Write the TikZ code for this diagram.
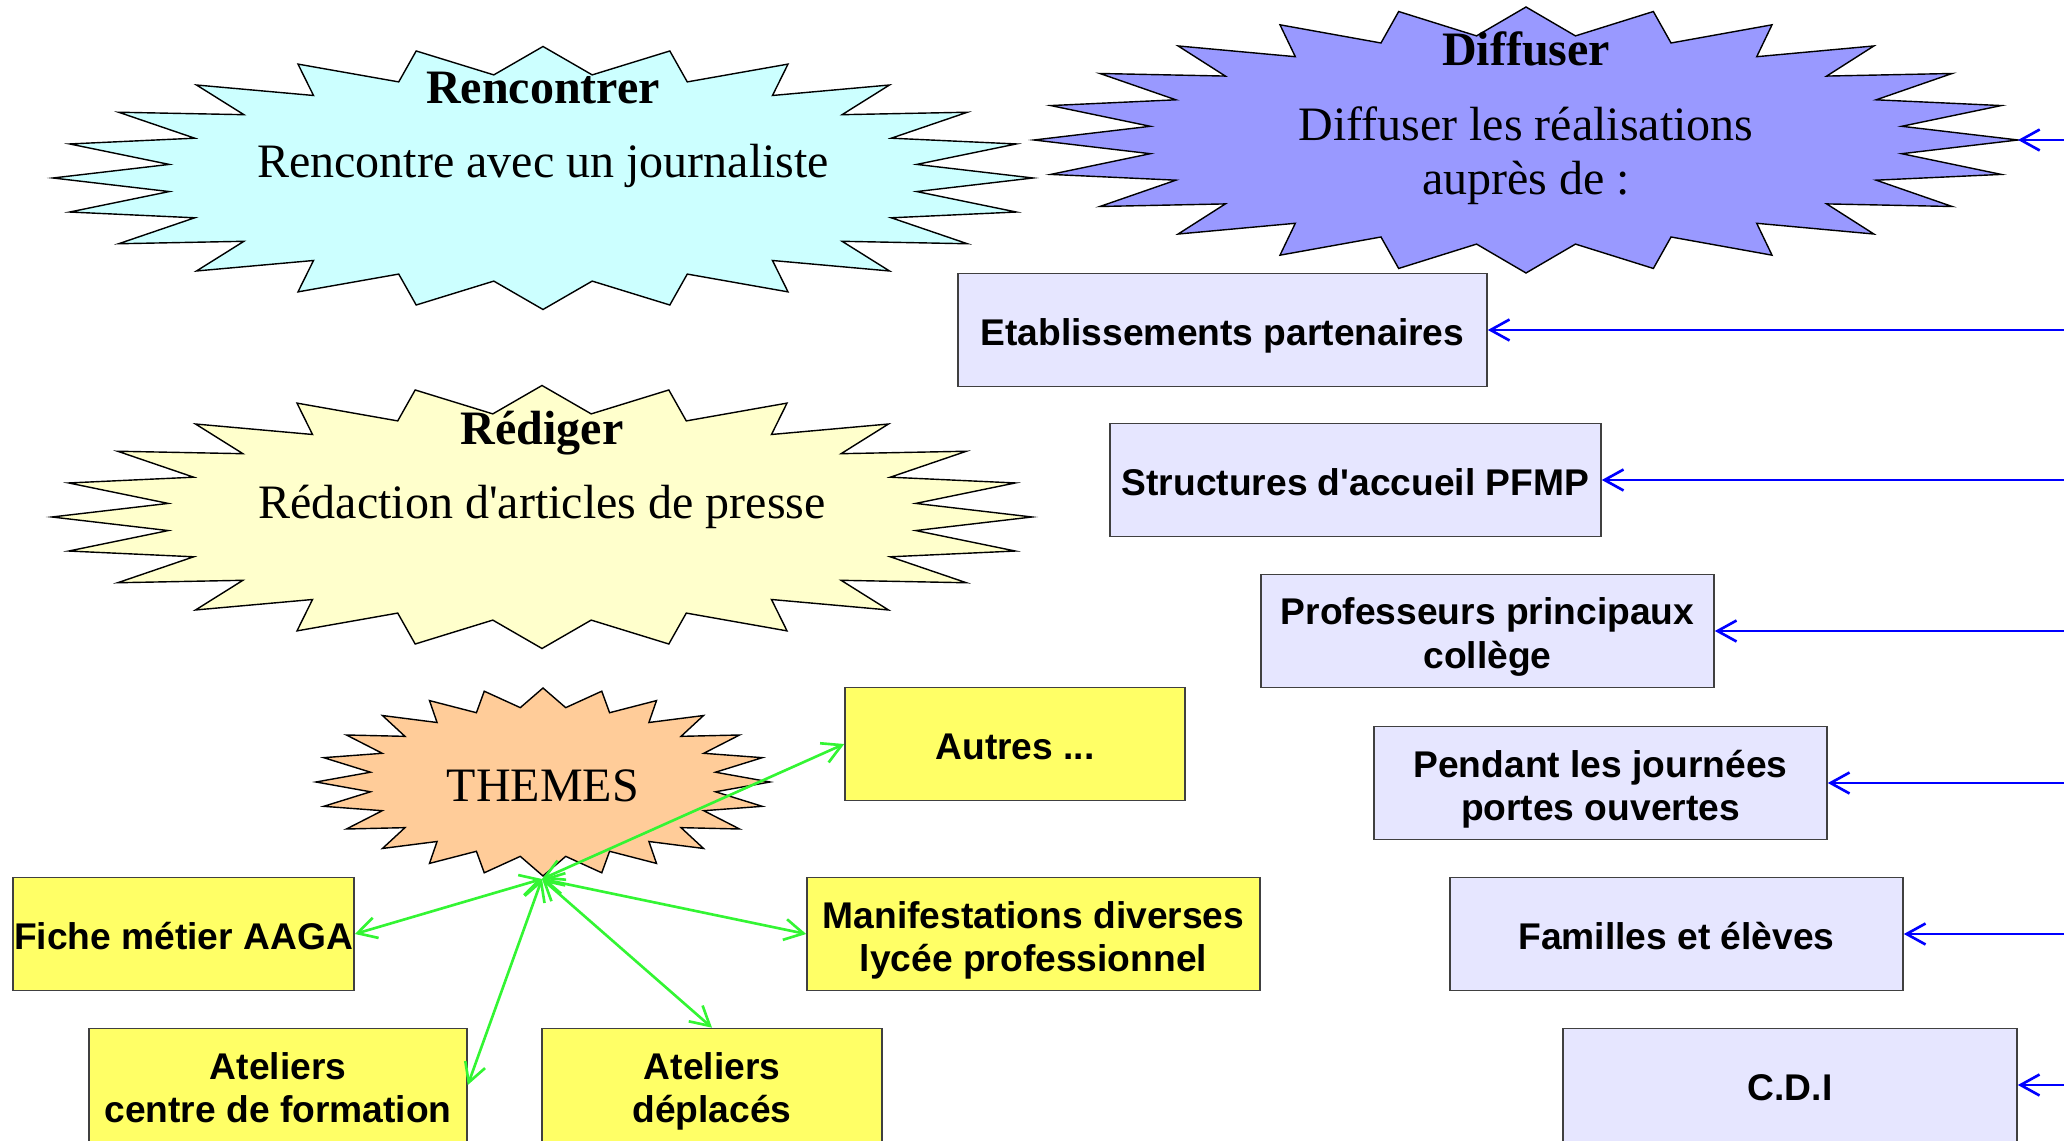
\documentclass[tikz,border=0pt]{standalone}
\usepackage{fontspec}
\setmainfont{Liberation Serif}
\setsansfont{Liberation Sans}
\usetikzlibrary{arrows.meta}

\definecolor{colRenc}{HTML}{CCFFFF}
\definecolor{colRedig}{HTML}{FFFFCC}
\definecolor{colThemes}{HTML}{FFCC99}
\definecolor{colDiff}{HTML}{9999FF}
\definecolor{colLav}{HTML}{E6E6FF}
\definecolor{colYel}{HTML}{FFFF66}
\definecolor{colGreen}{HTML}{33F533}

\newcommand{\burst}[6]{%
  \filldraw[fill=#6, draw=black, line width=0.4pt, shift={#1}]
    (0:#2 and #3) \foreach \i in {0,...,23} {-- (\i*15+7.5:#4 and #5) -- (\i*15+15:#2 and #3)} -- cycle;}
\newcommand{\topstrut}{\rule{0pt}{1.05em}}
\newcommand{\botstrut}{\rule[-0.21em]{0pt}{0.21em}}

\tikzset{
  title/.style={inner sep=0pt, font=\bfseries\fontsize{13.66}{15.4}\selectfont},
  body/.style={inner sep=0pt, align=center, font=\fontsize{13.66}{15.4}\selectfont},
  reachbox/.style={draw=black!75, fill=colLav, line width=0.45pt, minimum height=1.13cm,
    inner sep=0pt, align=center, font=\sffamily\bfseries\fontsize{10.58}{12.3}\selectfont,
    execute at begin node=\topstrut, execute at end node=\botstrut},
  themebox/.style={reachbox, fill=colYel},
  bluearrow/.style={draw=blue, line width=0.75pt, -{Straight Barb[length=1.9mm,width=2.1mm]}},
  greenarrow/.style={draw=colGreen, line width=0.75pt,
    {Straight Barb[length=1.9mm,width=2.1mm]}-{Straight Barb[length=1.9mm,width=2.1mm]}}
}

\begin{document}
\begin{tikzpicture}
\useasboundingbox (0,0) rectangle (20.64,-11.41);

\burst{(5.43,-1.78)}{4.90}{1.315}{3.77}{1.04}{colRenc}
\burst{(5.42,-5.17)}{4.90}{1.315}{3.77}{1.04}{colRedig}
\burst{(5.43,-7.82)}{2.27}{0.94}{1.74}{0.75}{colThemes}
\burst{(15.26,-1.40)}{4.92}{1.33}{3.79}{1.05}{colDiff}

\node[title] (renctitle) at (5.43,-0.88) {Rencontrer};
\node[body] (rencbody) at (5.43,-1.66) {Rencontre avec un journaliste};
\node[title] (redtitle) at (5.42,-4.33) {Rédiger};
\node[body] (redbody) at (5.42,-5.07) {Rédaction d\textquotesingle articles de presse};
\node[body] (themes) at (5.43,-7.86) {THEMES};
\node[title] (difftitle) at (15.26,-0.49) {Diffuser};
\node[body] (diffbody) at (15.26,-1.56) {Diffuser les réalisations\\auprès de :};

\node[reachbox, minimum width=5.29cm] (etab) at (12.225,-3.30) {Etablissements partenaires};
\node[reachbox, minimum width=4.91cm] (struct) at (13.555,-4.80) {Structures d\textquotesingle accueil PFMP};
\node[reachbox, minimum width=4.53cm] (prof) at (14.875,-6.31) {\topstrut Professeurs principaux\\collège\botstrut};
\node[reachbox, minimum width=4.53cm] (pendant) at (16.005,-7.83) {\topstrut Pendant les journées\\portes ouvertes\botstrut};
\node[reachbox, minimum width=4.53cm] (familles) at (16.765,-9.34) {Familles et élèves};
\node[reachbox, minimum width=4.54cm] (cdi) at (17.90,-10.85) {C.D.I};

\node[themebox, minimum width=3.40cm] (autres) at (10.15,-7.44) {Autres ...};
\node[themebox, minimum width=3.41cm] (fiche) at (1.835,-9.34) {Fiche métier AAGA};
\node[themebox, minimum width=4.53cm] (manif) at (10.335,-9.34) {\topstrut Manifestations diverses\\lycée professionnel\botstrut};
\node[themebox, minimum width=3.78cm] (atelcf) at (2.78,-10.85) {\topstrut Ateliers\\centre de formation\botstrut};
\node[themebox, minimum width=3.40cm] (ateldep) at (7.12,-10.85) {\topstrut Ateliers\\déplacés\botstrut};

\coordinate (hub) at (5.42,-8.79);
\coordinate (difftip) at (20.18,-1.40);
\coordinate (rail) at (20.65,0);

\draw[greenarrow] (hub) -- (autres.west);
\draw[greenarrow] (hub) -- (fiche.east);
\draw[greenarrow] (hub) -- (manif.west);
\draw[greenarrow] (hub) -- (atelcf.east);
\draw[greenarrow] (hub) -- (ateldep.north);

\draw[blue, line width=0.75pt] (difftip -| rail) -- (pendant.east -| rail);
\draw[bluearrow] (difftip -| rail) -- (difftip);
\foreach \b in {etab,struct,prof,pendant,familles,cdi}
  \draw[bluearrow] (\b.east -| rail) -- (\b.east);
\end{tikzpicture}
\end{document}
